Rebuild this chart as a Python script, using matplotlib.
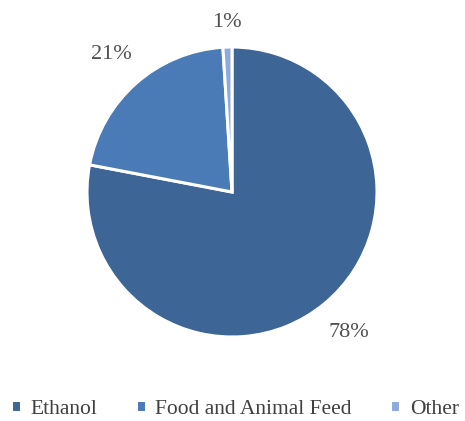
import matplotlib.pyplot as plt
import numpy as np

categories = ['Ethanol', 'Food and Animal Feed', 'Other']
shares = [78, 21, 1]
colors = ['#3d6696', '#4a7bb6', '#8eaadb']

plt.rcParams['font.family'] = ['Liberation Serif', 'DejaVu Serif']

fig = plt.figure(figsize=(4.65, 4.21), dpi=100)
ax = fig.add_axes([0, 0, 1, 1])

wedges, _ = ax.pie(shares, colors=colors, startangle=90, counterclock=False,
                   center=(232, 229), radius=145, frame=True,
                   wedgeprops=dict(edgecolor='white', linewidth=2.2))
ax.set_xlim(0, 465)
ax.set_ylim(0, 421)
ax.set_aspect('equal')
ax.axis('off')

dists = [1.26, 1.26, 1.17]
for w, s, d in zip(wedges, shares, dists):
    mid = np.deg2rad((w.theta1 + w.theta2) / 2)
    x = 232 + 145 * d * np.cos(mid)
    y = 229 + 145 * d * np.sin(mid)
    ax.text(x, y, f'{s}%', ha='center', va='center', fontsize=16, color='#505050')

leg = fig.legend(wedges, categories, loc='lower center', bbox_to_anchor=(0.505, 0.0),
                 ncol=3, frameon=False, fontsize=15.5, handlelength=0.45, handleheight=0.45,
                 handletextpad=0.45, columnspacing=1.8, labelcolor='#404040',
                 borderaxespad=0.0, borderpad=0.1)

fig.savefig('out.png', dpi=100)
